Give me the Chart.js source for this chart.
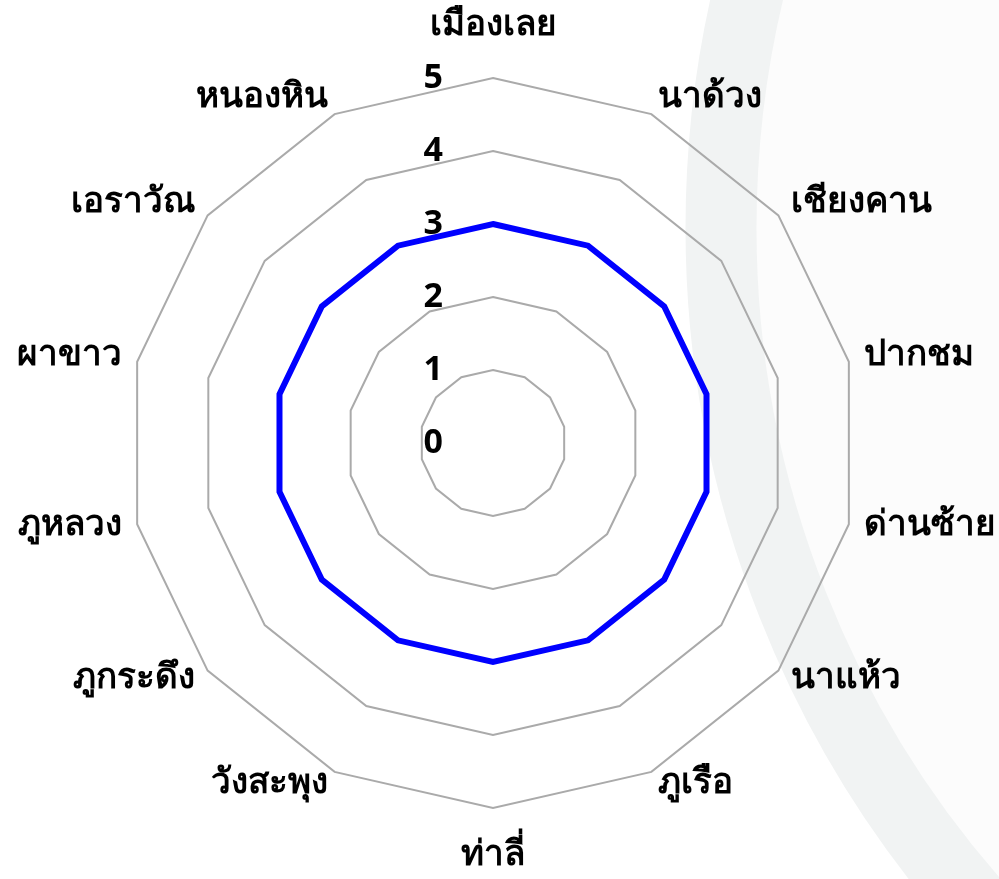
<!DOCTYPE html>
<html>
<head>
<meta charset="utf-8">
<script src="https://cdn.jsdelivr.net/npm/chart.js@4.4.0/dist/chart.umd.min.js"></script>
<style>
  html, body { margin: 0; padding: 0; background: #fff; }
  #wrap { width: 999px; height: 879px; position: relative; }
</style>
</head>
<body>
<div id="wrap"><canvas id="radar"></canvas></div>
<script>
const districts = ['เมืองเลย', 'นาด้วง', 'เชียงคาน', 'ปากชม', 'ด่านซ้าย', 'นาแห้ว', 'ภูเรือ',
  'ท่าลี่', 'วังสะพุง', 'ภูกระดึง', 'ภูหลวง', 'ผาขาว', 'เอราวัณ', 'หนองหิน'];
const scores = [3, 3, 3, 3, 3, 3, 3, 3, 3, 3, 3, 3, 3, 3];
const tickValues = [0, 1, 2, 3, 4, 5];

const fontFamily = "'Noto Sans', 'DejaVu Sans', sans-serif";

// faint arc in the background on the right
const backdrop = {
  id: 'backdrop',
  beforeDraw(chart) {
    const ctx = chart.ctx;
    ctx.save();
    ctx.fillStyle = '#ffffff';
    ctx.fillRect(0, 0, chart.width, chart.height);
    ctx.beginPath();
    ctx.arc(1746, 228, 990, 0, Math.PI * 2);
    ctx.fillStyle = '#fcfcfc';
    ctx.fill();
    ctx.beginPath();
    ctx.arc(1746, 228, 1025, 0, Math.PI * 2);
    ctx.lineWidth = 71;
    ctx.strokeStyle = '#f1f3f3';
    ctx.stroke();
    ctx.restore();
  }
};

// category labels and value ticks, placed like the original
const labelsAndTicks = {
  id: 'labelsAndTicks',
  afterDraw(chart) {
    const scale = chart.scales.r;
    const ctx = chart.ctx;
    ctx.save();
    ctx.fillStyle = '#000';
    ctx.textBaseline = 'middle';

    ctx.font = 'bold 35px ' + fontFamily;
    districts.forEach((name, i) => {
      const pos = scale.getPointPosition(i, scale.drawingArea + 16);
      let y = pos.y - 3;
      let align = 'center';
      if (pos.x > scale.xCenter + 1) align = 'left';
      else if (pos.x < scale.xCenter - 1) align = 'right';
      else y += pos.y < scale.yCenter ? -34 : 34;
      ctx.textAlign = align;
      ctx.fillText(name, pos.x, y);
    });

    ctx.font = 'bold 34px ' + fontFamily;
    ctx.textAlign = 'right';
    tickValues.forEach(v => {
      const y = scale.yCenter - scale.getDistanceFromCenterForValue(v);
      ctx.fillText(String(v), scale.xCenter - 50, y);
    });
    ctx.restore();
  }
};

new Chart(document.getElementById('radar'), {
  type: 'radar',
  data: {
    labels: districts,
    datasets: [{
      data: scores,
      borderColor: '#0000ff',
      borderWidth: 6,
      pointRadius: 0,
      pointHoverRadius: 0,
      fill: false,
      tension: 0
    }]
  },
  options: {
    responsive: true,
    maintainAspectRatio: false,
    animation: false,
    layout: { padding: { left: 128, right: 141, top: 78, bottom: 71 } },
    plugins: {
      legend: { display: false },
      tooltip: { enabled: false }
    },
    scales: {
      r: {
        min: 0,
        max: 5,
        ticks: { stepSize: 1, display: false },
        pointLabels: { display: false },
        angleLines: { display: false },
        grid: { color: '#aaaaaa', lineWidth: 2 }
      }
    }
  },
  plugins: [backdrop, labelsAndTicks]
});
</script>
</body>
</html>
